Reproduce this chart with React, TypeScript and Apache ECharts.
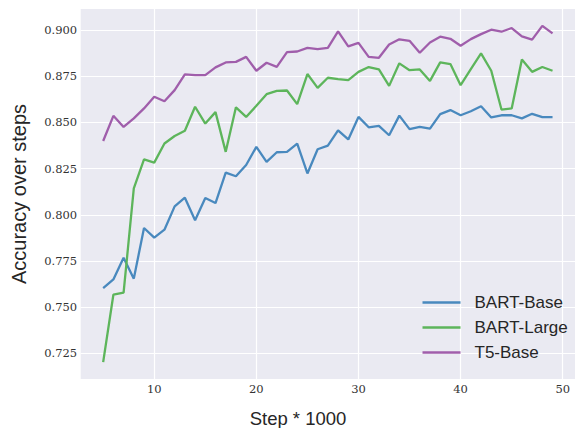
import React, { useEffect, useRef } from 'react';
import * as echarts from 'echarts';

const steps = [5, 6, 7, 8, 9, 10, 11, 12, 13, 14, 15, 16, 17, 18, 19, 20, 21, 22, 23, 24, 25, 26, 27, 28, 29, 30, 31, 32, 33, 34, 35, 36, 37, 38, 39, 40, 41, 42, 43, 44, 45, 46, 47, 48, 49];

const bartBase = [0.7604, 0.7651, 0.7768, 0.7655, 0.7929, 0.7877, 0.7920, 0.8046, 0.8093, 0.7971, 0.8091, 0.8064, 0.8229, 0.8209, 0.8270, 0.8368, 0.8287, 0.8339, 0.8341, 0.8386, 0.8224, 0.8355, 0.8375, 0.8457, 0.8408, 0.8530, 0.8474, 0.8482, 0.8431, 0.8537, 0.8464, 0.8476, 0.8467, 0.8545, 0.8567, 0.8539, 0.8561, 0.8588, 0.8527, 0.8539, 0.8539, 0.8522, 0.8547, 0.8529, 0.8529];

const bartLarge = [0.7203, 0.7568, 0.7579, 0.8144, 0.8300, 0.8283, 0.8386, 0.8427, 0.8455, 0.8585, 0.8494, 0.8556, 0.8341, 0.8582, 0.8530, 0.8590, 0.8653, 0.8671, 0.8673, 0.8599, 0.8762, 0.8687, 0.8742, 0.8735, 0.8729, 0.8774, 0.8800, 0.8787, 0.8698, 0.8820, 0.8783, 0.8787, 0.8725, 0.8825, 0.8816, 0.8702, 0.8789, 0.8874, 0.8780, 0.8570, 0.8576, 0.8841, 0.8774, 0.8800, 0.8780];

const t5Base = [0.8400, 0.8536, 0.8476, 0.8522, 0.8576, 0.8639, 0.8615, 0.8675, 0.8760, 0.8756, 0.8756, 0.8798, 0.8825, 0.8828, 0.8855, 0.8780, 0.8823, 0.8801, 0.8881, 0.8884, 0.8904, 0.8897, 0.8904, 0.8993, 0.8912, 0.8931, 0.8855, 0.8850, 0.8922, 0.8950, 0.8942, 0.8877, 0.8933, 0.8964, 0.8953, 0.8915, 0.8951, 0.8978, 0.9002, 0.8991, 0.9011, 0.8966, 0.8948, 0.9023, 0.8982];

const seriesNames = ['BART-Base', 'BART-Large', 'T5-Base'];
const seriesColors = ['#4989be', '#5db55b', '#a05eab'];
const xTicks = [10, 20, 30, 40, 50];
const yTicks = [0.725, 0.75, 0.775, 0.8, 0.825, 0.85, 0.875, 0.9];
const xTitle = 'Step * 1000';
const yTitle = 'Accuracy over steps';

export default function App() {
  const ref = useRef<HTMLDivElement>(null);

  useEffect(() => {
    if (!ref.current) return;
    const chart = echarts.init(ref.current, null, { renderer: 'svg' });
    const allSeries = [bartBase, bartLarge, t5Base];
    const tickFont = {
      fontFamily: 'DejaVu Serif',
      fontSize: 11.5,
      color: '#333333',
    };
    chart.setOption({
      animation: false,
      backgroundColor: '#ffffff',
      grid: {
        left: 80.7,
        top: 9,
        width: 496.3,
        height: 370,
        show: true,
        backgroundColor: '#EAEAF2',
        borderWidth: 0,
        containLabel: false,
      },
      legend: {
        orient: 'vertical',
        left: 422.5,
        top: 294,
        padding: 0,
        itemGap: 8,
        itemWidth: 38,
        itemHeight: 2.4,
        icon: 'rect',
        data: seriesNames,
        textStyle: {
          fontFamily: 'Liberation Sans',
          fontSize: 17,
          lineHeight: 17,
          color: '#262626',
          padding: [0, 0, 0, 9],
        },
      },
      xAxis: {
        type: 'value',
        min: 2.8,
        max: 51.2,
        axisLine: { show: false },
        axisTick: { show: false, customValues: xTicks },
        splitLine: { show: true, lineStyle: { color: '#ffffff', width: 1.2 } },
        axisLabel: {
          customValues: xTicks,
          margin: 4,
          ...tickFont,
        },
      },
      yAxis: {
        type: 'value',
        min: 0.7112,
        max: 0.9114,
        axisLine: { show: false },
        axisTick: { show: false, customValues: yTicks },
        splitLine: { show: true, lineStyle: { color: '#ffffff', width: 1.2 } },
        axisLabel: {
          customValues: yTicks,
          margin: 3.5,
          formatter: (v: number) => v.toFixed(3),
          padding: [6, 0, 0, 0],
          ...tickFont,
        },
      },
      series: seriesNames.map((name, i) => ({
        name,
        type: 'line',
        data: steps.map((s, j) => [s, allSeries[i][j]]),
        showSymbol: false,
        symbol: 'none',
        color: seriesColors[i],
        lineStyle: { width: 2.3, color: seriesColors[i] },
        emphasis: { disabled: true },
      })),
      graphic: [
        {
          type: 'text',
          x: 298,
          y: 418,
          style: {
            text: xTitle,
            fontFamily: 'Liberation Sans',
            fontSize: 18.5,
            fill: '#262626',
            align: 'center',
            verticalAlign: 'middle',
          },
        },
        {
          type: 'text',
          x: 19,
          y: 194,
          rotation: Math.PI / 2,
          style: {
            text: yTitle,
            fontFamily: 'Liberation Sans',
            fontSize: 20,
            fill: '#262626',
            align: 'center',
            verticalAlign: 'middle',
          },
        },
      ],
    });
    return () => chart.dispose();
  }, []);

  return (
    <div
      ref={ref}
      style={{ position: 'absolute', left: 0, top: 0, width: 575, height: 428 }}
    />
  );
}
